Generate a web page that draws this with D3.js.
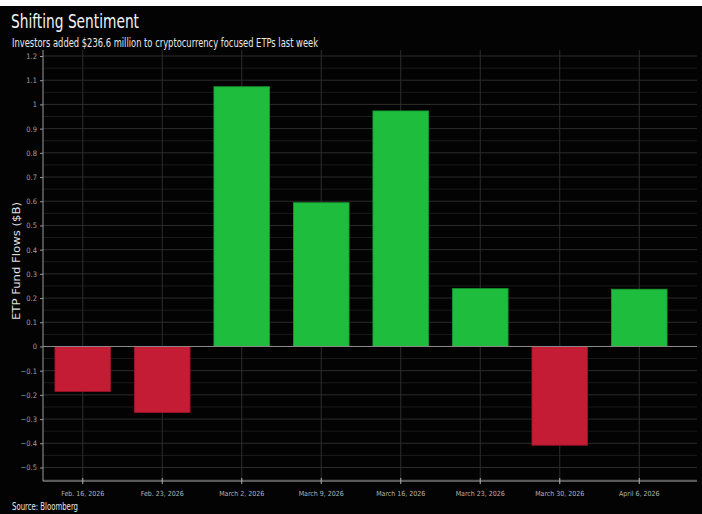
<!DOCTYPE html>
<html>
<head>
<meta charset="utf-8">
<script src="https://cdn.jsdelivr.net/npm/d3@7"></script>
<style>
  body { margin: 0; background: #fff; }
  .chart text { font-family: "Liberation Sans Narrow", "DejaVu Sans Condensed", "Liberation Sans", sans-serif; }
</style>
</head>
<body>
<div class="chart"></div>
<script>
// week labels and weekly flows ($B)
const weeks = ['Feb. 16, 2026', 'Feb. 23, 2026', 'March 2, 2026', 'March 9, 2026',
  'March 16, 2026', 'March 23, 2026', 'March 30, 2026', 'April 6, 2026'];
const flows = [-0.186, -0.273, 1.073, 0.594, 0.973, 0.239, -0.408, 0.2366];
const yTicks = [1.2, 1.1, 1, 0.9, 0.8, 0.7, 0.6, 0.5, 0.4, 0.3, 0.2, 0.1, 0, -0.1, -0.2, -0.3, -0.4, -0.5];

let W = 702, H = 514;
let plot = { left: 43, right: 697, top: 50, bottom: 481 };

let svg = d3.select('.chart').append('svg')
    .attr('width', W)
    .attr('height', H);

svg.append('rect')
    .attr('x', 0).attr('y', 6)
    .attr('width', W).attr('height', H - 6)
    .attr('fill', '#030303');

let x = d3.scaleBand().domain(weeks).range([43, 679]).paddingInner(0.3).paddingOuter(0.15);
let y = d3.scaleLinear().domain([-0.5, 1.2]).range([467.5, 56]);

// minor + major horizontal grid
let minor = d3.range(-0.55, 1.2001, 0.05).map(v => Math.round(v * 100) / 100);
svg.append('g').selectAll('line')
    .data(minor)
    .enter().append('line')
    .attr('x1', plot.left).attr('x2', plot.right)
    .attr('y1', d => y(d)).attr('y2', d => y(d))
    .attr('stroke', d => (Math.round(d * 100) % 10 === 0) ? '#2c2c2c' : '#1b1b1b')
    .attr('stroke-width', 1);

// vertical grid at each week
svg.append('g').selectAll('line')
    .data(weeks)
    .enter().append('line')
    .attr('x1', d => x(d) + x.bandwidth() / 2)
    .attr('x2', d => x(d) + x.bandwidth() / 2)
    .attr('y1', plot.top).attr('y2', plot.bottom)
    .attr('stroke', '#2e2e2e');

// bars
svg.append('g').selectAll('rect')
    .data(flows)
    .enter().append('rect')
    .attr('x', (d, i) => x(weeks[i]))
    .attr('width', x.bandwidth())
    .attr('y', d => y(Math.max(0, d)))
    .attr('height', d => Math.abs(y(d) - y(0)))
    .attr('fill', d => d >= 0 ? '#1fbd3e' : '#c41c35')
    .attr('stroke', d => d >= 0 ? '#169a30' : '#9c1428')
    .attr('stroke-width', 0.8);

// zero line
svg.append('line')
    .attr('x1', plot.left).attr('x2', plot.right)
    .attr('y1', y(0)).attr('y2', y(0))
    .attr('stroke', '#8a8a8a');

// y axis
let yAxis = d3.axisLeft(y).tickValues(yTicks).tickSize(3).tickFormat(d3.format('~g'));
let gy = svg.append('g')
    .attr('transform', 'translate(' + plot.left + ',0)')
    .call(yAxis);
gy.select('.domain').remove();
gy.append('line')
    .attr('x1', 0).attr('x2', 0)
    .attr('y1', plot.top).attr('y2', plot.bottom)
    .attr('stroke', '#9a9a9a');
gy.selectAll('.tick line').attr('stroke', '#9a9a9a');
gy.selectAll('.tick text')
    .attr('fill', '#a0a0a0')
    .style('font-size', '7.5px');

// x axis
let xAxis = d3.axisBottom(x).tickSize(3).tickPadding(7);
let gx = svg.append('g')
    .attr('transform', 'translate(0,' + plot.bottom + ')')
    .call(xAxis);
gx.select('.domain').remove();
gx.append('line')
    .attr('x1', plot.left).attr('x2', plot.right)
    .attr('stroke', '#b0b0b0');
gx.selectAll('.tick line').attr('stroke', '#b0b0b0').attr('y1', -3).attr('y2', 3);
gx.selectAll('.tick text')
    .attr('fill', '#b4b4b4')
    .style('font-size', '7px');

// titles (narrow Bloomberg face, so squeeze to the measured widths)
svg.append('text')
    .attr('x', 11).attr('y', 28)
    .attr('fill', '#f2f2f2')
    .attr('textLength', 128)
    .attr('lengthAdjust', 'spacingAndGlyphs')
    .style('font-size', '19px')
    .text('Shifting Sentiment');

svg.append('text')
    .attr('x', 12).attr('y', 47)
    .attr('fill', '#e8e8e8')
    .attr('textLength', 306)
    .attr('lengthAdjust', 'spacingAndGlyphs')
    .style('font-size', '11.5px')
    .text('Investors added $236.6 million to cryptocurrency focused ETPs last week');

svg.append('text')
    .attr('transform', 'translate(20,261) rotate(-90)')
    .attr('text-anchor', 'middle')
    .attr('fill', '#e0e0e0')
    .attr('textLength', 118)
    .attr('lengthAdjust', 'spacingAndGlyphs')
    .style('font-size', '10px')
    .text('ETP Fund Flows ($B)');

svg.append('text')
    .attr('x', 12).attr('y', 510)
    .attr('fill', '#e6e6e6')
    .attr('textLength', 66)
    .attr('lengthAdjust', 'spacingAndGlyphs')
    .style('font-size', '10px')
    .text('Source: Bloomberg');
</script>
</body>
</html>
